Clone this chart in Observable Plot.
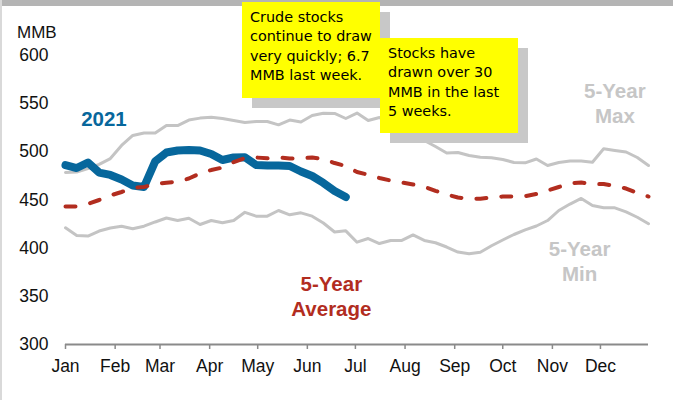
<!DOCTYPE html>
<html><head><meta charset="utf-8">
<script src="https://cdn.jsdelivr.net/npm/d3@7"></script>
<script src="https://cdn.jsdelivr.net/npm/@observablehq/plot@0.6"></script>
<style>
html,body{margin:0;padding:0;background:#fff;}
#wrap{position:relative;width:673px;height:400px;overflow:hidden;font-family:"Liberation Sans",Arial,sans-serif;background:#fff;}
#wrap svg{position:absolute;left:0;top:0;}
.bar{position:absolute;left:0;top:0;width:673px;height:6px;background:#b4b4b4;}
.lb{position:absolute;left:0;top:0;width:2px;height:400px;background:#d9d9d9;}
.unit{position:absolute;left:17px;top:24px;font-size:17px;line-height:17px;color:#111;}
.note{position:absolute;background:#ffff00;box-shadow:10px 10px 0 #c8c8c8;font-family:"Comic Sans MS","DejaVu Sans",sans-serif;font-size:14.4px;line-height:19.3px;color:#000;box-sizing:border-box;padding:6px 0 0 8px;white-space:nowrap;}
</style></head>
<body><div id="wrap"></div>
<script>
// Weekly crude stocks, MMB (53 weeks from Jan 1)
const max5 = [478.6,479,482.7,486.9,493,506.6,517,519.6,519.6,527.3,527.3,533,535,536,534.6,532.5,530.5,531.5,531.5,528,533,531,537.7,540,539.8,534.6,540.2,532.5,535.6,530.5,524,518,511.8,505.5,498.8,499.3,496.2,494.4,493.8,492,489,488.6,492.6,485.8,489,490.5,490.5,489.2,503.2,501.4,499.8,494.1,485.8];
const min5 = [421.1,413.2,412.6,417.8,421,422.7,420.1,422.8,427.2,431.3,428.7,431.1,424.6,428.7,426.3,428.7,437.2,433.2,433.2,439.1,434.6,436.7,433.2,426.1,416.8,418,406.2,410,404.8,408,408,413.7,408,405.6,401.2,396,394.1,395.8,402.5,408.5,414.2,418.9,423,428.7,439.1,445.8,451.6,444.3,441.9,441.9,437.7,432.1,425.3];
const avg5 = [443.3,443.3,445.9,450,454.7,458.3,462.5,463.5,466.6,467.9,469.2,472.3,477.5,481.1,483.7,489.4,493.6,494.1,493.3,494.1,493.1,493.4,494.1,492.6,488.4,485.3,479.1,476.2,472.8,470.2,468.2,466.1,463.7,459.5,455.7,452.6,451.3,451.3,452.6,453.6,453.6,454,456.3,459.9,463.5,467.1,468.2,466.3,466.6,464.5,461.9,457.3,453.6];
const y2021 = [486.3,483.2,488.9,478.5,476,471.3,465.1,463.5,490,499.3,501.4,501.9,501.4,497.7,491.5,494.1,494.4,486.3,485.8,485.8,485.3,479.6,474.9,467.7,459.3,453.1];
const yTicks = [300,350,400,450,500,550,600];
const monthTicks = d3.utcMonth.range(new Date(Date.UTC(2021,0,1)), new Date(Date.UTC(2022,0,1)));
const week = i => new Date(Date.UTC(2021,0,1 + 7*i));
const toRows = arr => arr.map((v,i) => ({date: week(i), value: v}));

const labels = [
  {text:"2021", date:new Date(Date.UTC(2021,0,25)), value:535.7, color:"#07679c"},
  {text:"5-Year\nMax", date:new Date(Date.UTC(2021,11,10)), value:551.3, color:"#c6c6c6"},
  {text:"5-Year\nMin", date:new Date(Date.UTC(2021,10,18)), value:387.2, color:"#c6c6c6"},
  {text:"5-Year\nAverage", date:new Date(Date.UTC(2021,5,16)), value:351, color:"#b22d1f"}
];

const chart = Plot.plot({
  width: 673, height: 400,
  marginLeft: 65, marginRight: 25, marginTop: 55, marginBottom: 56,
  style: {fontFamily: '"Liberation Sans", Arial, sans-serif', fontSize: "17.5px", color: "#111", background: "transparent"},
  x: {type: "utc", domain: [new Date(Date.UTC(2021,0,1)), new Date(Date.UTC(2021,11,31))]},
  y: {domain: [300, 600]},
  marks: [
    Plot.ruleY([300], {stroke: "#8a8a8a", strokeWidth: 2}),
    Plot.axisX({ticks: monthTicks, tickFormat: d3.utcFormat("%b"), tickSize: 5, tickPadding: 10, stroke: "#8a8a8a", strokeWidth: 1.5, label: null, fontSize: "17.5px"}),
    Plot.axisY({ticks: yTicks, tickSize: 0, tickPadding: 17, label: null, fontSize: "17.5px"}),
    Plot.lineY(toRows(max5), {x: "date", y: "value", stroke: "#c4c4c4", strokeWidth: 3}),
    Plot.lineY(toRows(min5), {x: "date", y: "value", stroke: "#c4c4c4", strokeWidth: 3}),
    Plot.lineY(toRows(y2021), {x: "date", y: "value", stroke: "#07679c", strokeWidth: 8, strokeLinejoin: "round", strokeLinecap: "round"}),
    Plot.lineY(toRows(avg5), {x: "date", y: "value", stroke: "#b22d1f", strokeWidth: 4, strokeDasharray: "10,15", strokeLinecap: "round"}),
    Plot.text(labels, {x: "date", y: "value", text: "text", fill: "color", fontWeight: "bold", fontSize: 20.5, lineHeight: 1.25})
  ]
});

const wrap = document.getElementById("wrap");
wrap.appendChild(chart);
wrap.insertAdjacentHTML("beforeend", `
  <div class="bar"></div>
  <div class="lb"></div>
  <div class="unit">MMB</div>
  <div class="note" style="left:242px;top:2px;width:138px;height:96px;">Crude stocks<br>continue to draw<br>very quickly; 6.7<br>MMB last week.</div>
  <div class="note" style="left:380px;top:38px;width:138px;height:95px;">Stocks have<br>drawn over 30<br>MMB in the last<br>5 weeks.</div>
`);
</script>
</body></html>
